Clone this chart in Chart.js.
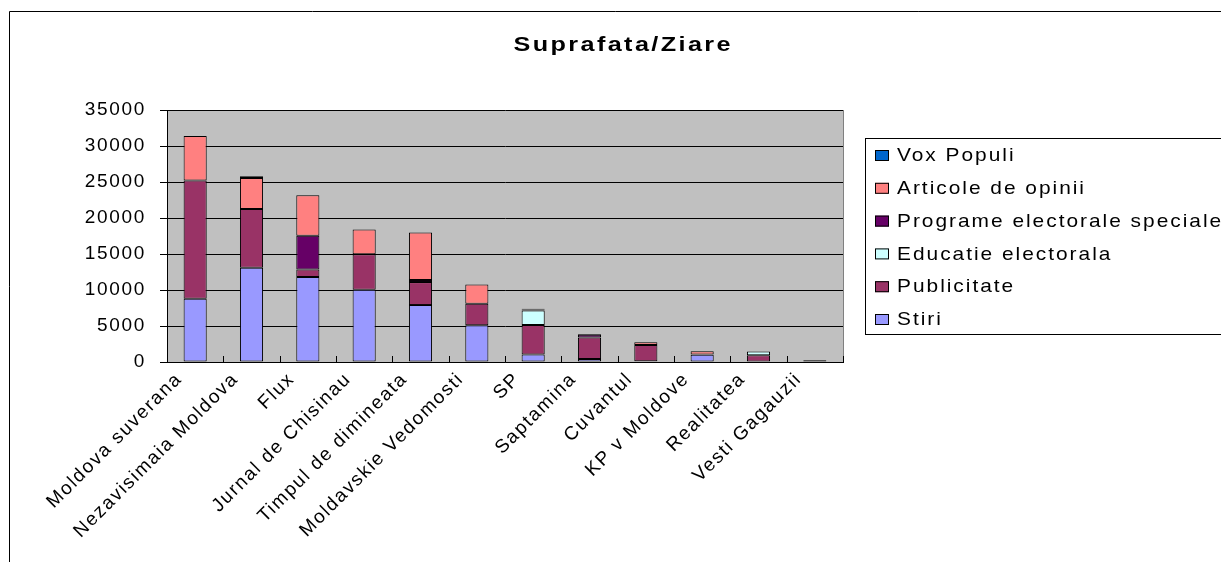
<!DOCTYPE html>
<html>
<head>
<meta charset="utf-8">
<script src="https://cdn.jsdelivr.net/npm/chart.js@4.4.1/dist/chart.umd.min.js"></script>
<style>
  html, body { margin: 0; padding: 0; background: #fff; }
  #wrap { position: relative; width: 1221px; height: 562px; }
</style>
</head>
<body>
<div id="wrap"><canvas id="chart" width="1221" height="562"></canvas></div>
<script>
// data
const ziare = ['Moldova suverana', 'Nezavisimaia Moldova', 'Flux', 'Jurnal de Chisinau',
  'Timpul de dimineata', 'Moldavskie Vedomosti', 'SP', 'Saptamina', 'Cuvantul',
  'KP v Moldove', 'Realitatea', 'Vesti Gagauzii'];

const stiri       = [8800, 13100, 11800, 10050, 7900, 5100, 1050, 400, 100, 1000, 0, 0];
const publicitate = [16400, 8150, 1050, 4900, 3200, 3000, 4100, 3000, 2250, 50, 950, 0];
const educatie    = [0, 0, 0, 0, 0, 0, 2000, 0, 0, 0, 500, 0];
const programe    = [0, 0, 4700, 0, 300, 0, 150, 400, 0, 0, 0, 250];
const articole    = [6200, 4300, 5600, 3450, 6600, 2650, 0, 0, 400, 450, 0, 0];
const voxPopuli   = [0, 250, 0, 0, 0, 0, 100, 100, 0, 0, 0, 0];

const yTicks = [0, 5000, 10000, 15000, 20000, 25000, 30000, 35000];

const FONT = 'Liberation Sans, Arial, sans-serif';

// excel-ish wide text
const spacing = {
  id: 'spacing',
  beforeUpdate(chart) { chart.ctx.letterSpacing = '1.7px'; },
  beforeDraw(chart) { chart.ctx.letterSpacing = '1.7px'; }
};

const plotBg = {
  id: 'plotBg',
  beforeDraw(chart) {
    const { ctx, chartArea: a } = chart;
    ctx.save();
    ctx.fillStyle = '#C0C0C0';
    ctx.fillRect(a.left, a.top, a.right - a.left, a.bottom - a.top);
    ctx.strokeStyle = '#808080';
    ctx.lineWidth = 1;
    ctx.beginPath();
    ctx.moveTo(Math.round(a.right) + 0.5, a.top);
    ctx.lineTo(Math.round(a.right) + 0.5, a.bottom);
    ctx.stroke();
    ctx.restore();
  }
};

const extras = {
  id: 'extras',
  afterDraw(chart) {
    const { ctx, chartArea: a } = chart;
    const x = chart.scales.x;
    ctx.save();
    // frame
    ctx.strokeStyle = '#000';
    ctx.lineWidth = 1;
    ctx.beginPath();
    ctx.moveTo(9.5, 562);
    ctx.lineTo(9.5, 11.5);
    ctx.lineTo(1221, 11.5);
    ctx.stroke();

    // inward ticks between categories
    const half = (x.getPixelForValue(1) - x.getPixelForValue(0)) / 2;
    ctx.beginPath();
    for (let i = 0; i <= ziare.length; i++) {
      const px = Math.round(x.getPixelForValue(i) - half) + 0.5;
      ctx.moveTo(px, a.bottom);
      ctx.lineTo(px, a.bottom - 6);
    }
    ctx.stroke();

    // title, a bit stretched like the original
    ctx.fillStyle = '#000';
    ctx.save();
    ctx.translate(622, 45);
    ctx.scale(1.2, 1);
    ctx.font = 'bold 21px ' + FONT;
    ctx.letterSpacing = '2px';
    ctx.textAlign = 'center';
    ctx.textBaseline = 'middle';
    ctx.fillText('Suprafata/Ziare', 1, 0);
    ctx.restore();

    // legend
    ctx.strokeRect(865.5, 138.5, 400, 196);
    const ds = chart.data.datasets.slice().reverse();
    ds.forEach((d, i) => {
      const cy = 155 + i * 32.8;
      ctx.fillStyle = d.backgroundColor;
      ctx.fillRect(875, cy - 5, 14, 11);
      ctx.strokeRect(875.5, cy - 4.5, 13, 10);
      ctx.save();
      ctx.translate(897, cy + 1);
      ctx.scale(1.1, 1);
      ctx.fillStyle = '#000';
      ctx.font = '19px ' + FONT;
      ctx.letterSpacing = '1.8px';
      ctx.textAlign = 'left';
      ctx.textBaseline = 'middle';
      ctx.fillText(d.label, 0, 0);
      ctx.restore();
    });
    ctx.restore();
  }
};

function ds(label, data, color) {
  return {
    label, data,
    backgroundColor: color,
    borderColor: '#000',
    borderWidth: 1,
    borderSkipped: false,
    barPercentage: 0.82,
    categoryPercentage: 0.5
  };
}

new Chart(document.getElementById('chart').getContext('2d'), {
  type: 'bar',
  data: {
    labels: ziare,
    datasets: [
      ds('Stiri', stiri, '#9999FF'),
      ds('Publicitate', publicitate, '#993366'),
      ds('Educatie electorala', educatie, '#CCFFFF'),
      ds('Programe electorale speciale', programe, '#660066'),
      ds('Articole de opinii', articole, '#FF8080'),
      ds('Vox Populi', voxPopuli, '#0066CC')
    ]
  },
  options: {
    responsive: false,
    animation: false,
    layout: { padding: { left: 0, top: 110, right: 378, bottom: 0 } },
    plugins: {
      legend: { display: false },
      title: { display: false },
      tooltip: { enabled: false }
    },
    scales: {
      x: {
        stacked: true,
        grid: { display: false },
        border: { color: '#000', width: 1 },
        ticks: {
          color: '#000',
          font: { family: FONT, size: 19 },
          maxRotation: 45,
          minRotation: 45,
          autoSkip: false,
          labelOffset: -16,
          padding: -2
        },
        afterFit(s) { s.height = 200; }
      },
      y: {
        stacked: true,
        min: 0,
        max: 35000,
        afterBuildTicks(s) { s.ticks = yTicks.map(v => ({ value: v })); },
        grid: { color: '#000', tickLength: 7, tickColor: '#000' },
        border: { color: '#000', width: 1 },
        ticks: {
          color: '#000',
          font: { family: FONT, size: 19 },
          padding: 14,
          callback: v => String(v)
        },
        afterFit(s) { s.width = 167; }
      }
    }
  },
  plugins: [spacing, plotBg, extras]
});
</script>
</body>
</html>
